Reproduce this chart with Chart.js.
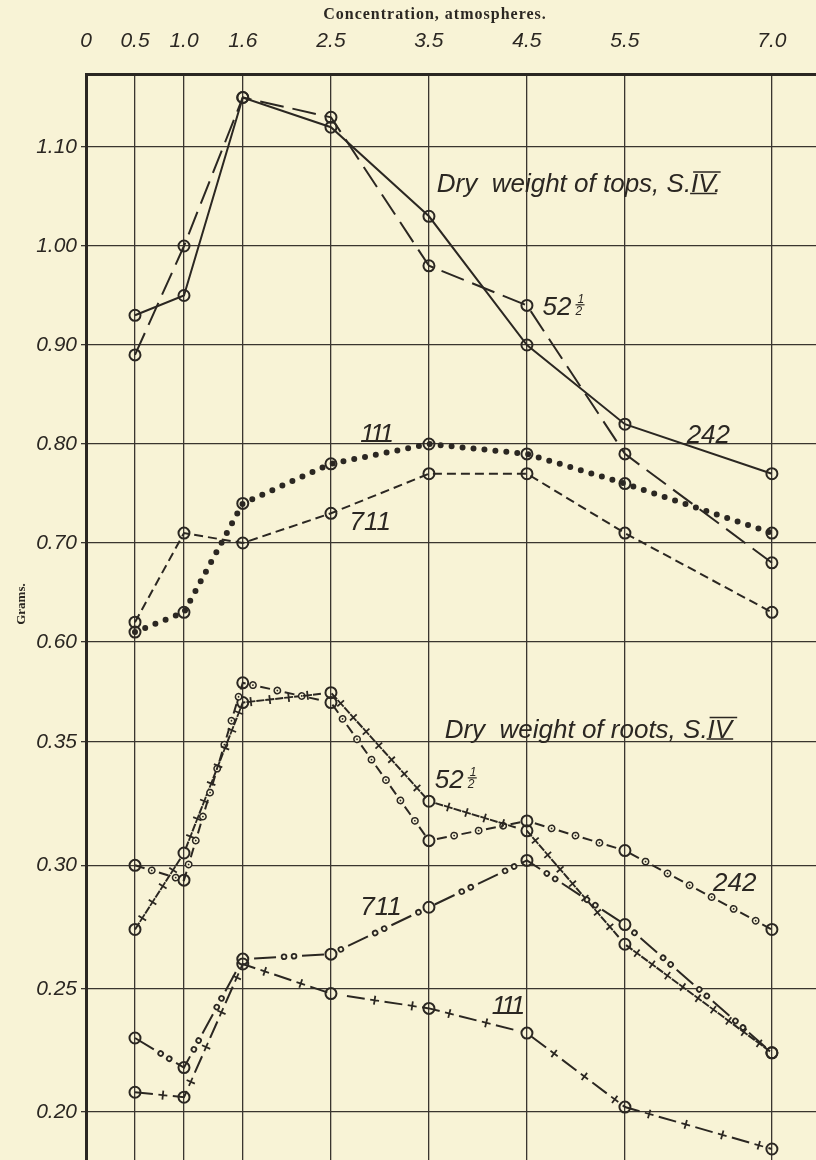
<!DOCTYPE html>
<html>
<head>
<meta charset="utf-8">
<title>Dry weight of tops and roots</title>
<style>
  html, body { margin: 0; padding: 0; background: #f8f3d6; }
  #wrap { width: 816px; height: 1160px; }
</style>
</head>
<body>
<div id="wrap"><canvas id="weightChart" width="816" height="1160"></canvas></div>
<script src="https://cdn.jsdelivr.net/npm/chart.js@4.4.1/dist/chart.umd.min.js"></script>
<script>
// concentration of the culture solution, atmospheres
const concentrations = [0.5, 1.0, 1.6, 2.5, 3.5, 4.5, 5.5, 7.0];
const concTicks = [0, 0.5, 1.0, 1.6, 2.5, 3.5, 4.5, 5.5, 7.0];
const concTickLabels = ['0', '0.5', '1.0', '1.6', '2.5', '3.5', '4.5', '5.5', '7.0'];

const topsTicks = [0.60, 0.70, 0.80, 0.90, 1.00, 1.10];
const topsTickLabels = ['0.60', '0.70', '0.80', '0.90', '1.00', '1.10'];
const rootsTicks = [0.20, 0.25, 0.30, 0.35];
const rootsTickLabels = ['0.20', '0.25', '0.30', '0.35'];

// dry weight of tops, grams
const tops242 = [0.93, 0.95, 1.15, 1.12, 1.03, 0.90, 0.82, 0.77];
const tops52 = [0.89, 1.00, 1.15, 1.13, 0.98, 0.94, 0.79, 0.68];
const tops111 = [0.61, 0.63, 0.74, 0.78, 0.80, 0.79, 0.76, 0.71];
const tops711 = [0.62, 0.71, 0.70, 0.73, 0.77, 0.77, 0.71, 0.63];

// dry weight of roots, grams
const roots242 = [0.300, 0.294, 0.374, 0.366, 0.310, 0.318, 0.306, 0.274];
const roots52 = [0.274, 0.305, 0.366, 0.370, 0.326, 0.314, 0.268, 0.224];
const roots711 = [0.230, 0.218, 0.262, 0.264, 0.283, 0.302, 0.276, 0.224];
const roots111 = [0.208, 0.206, 0.260, 0.248, 0.242, 0.232, 0.202, 0.185];

const INK = '#2b2722';
const GRID = '#3a352f';
const PAPER = '#f8f3d6';
const HAND = '"Liberation Sans", "DejaVu Sans", sans-serif';
const PRINT = '"Liberation Serif", "DejaVu Serif", serif';

// curve names and panel captions, placed in data units
const curveNotes = [
  { text: 'Dry  weight of tops, S.', numeral: 'IV', tail: '.', axis: 'yTops', x: 3.58, y: 1.0545 },
  { text: '52', fraction: true, axis: 'yTops', x: 4.66, y: 0.930 },
  { text: '242', axis: 'yTops', x: 6.13, y: 0.801 },
  { text: '111', axis: 'yTops', x: 2.80, y: 0.802 },
  { text: '711', axis: 'yTops', x: 2.69, y: 0.713 },
  { text: 'Dry  weight of roots, S.', numeral: 'IV', tail: '', axis: 'yRoots', x: 3.66, y: 0.3518 },
  { text: '52', fraction: true, axis: 'yRoots', x: 3.56, y: 0.3312 },
  { text: '242', axis: 'yRoots', x: 6.40, y: 0.2895 },
  { text: '711', axis: 'yRoots', x: 2.80, y: 0.2798 },
  { text: '111', axis: 'yRoots', x: 4.14, y: 0.2397 },
];

function seriesPoints(values) {
  return concentrations.map((c, i) => ({ x: c, y: values[i] }));
}

function curve(label, values, axis, style) {
  return Object.assign({
    label,
    data: seriesPoints(values),
    yAxisID: axis,
    borderColor: INK,
    borderWidth: 2,
    tension: 0,
    fill: false,
    pointRadius: 5.5,
    pointBorderWidth: 2,
    pointBorderColor: INK,
    pointBackgroundColor: 'rgba(0,0,0,0)',
  }, style);
}

function drawGlyph(ctx, kind, x, y, angle) {
  ctx.save();
  ctx.translate(x, y);
  ctx.rotate(angle);
  if (kind === 'ring') {
    ctx.beginPath();
    ctx.arc(0, 0, 3.2, 0, Math.PI * 2);
    ctx.fillStyle = PAPER;
    ctx.fill();
    ctx.lineWidth = 1.5;
    ctx.stroke();
    ctx.beginPath();
    ctx.arc(0, 0, 0.9, 0, Math.PI * 2);
    ctx.fillStyle = INK;
    ctx.fill();
  } else if (kind === 'dot') {
    ctx.beginPath();
    ctx.arc(0, 0, 2.4, 0, Math.PI * 2);
    ctx.fillStyle = PAPER;
    ctx.fill();
    ctx.lineWidth = 1.8;
    ctx.stroke();
  } else if (kind === 'cross') {
    ctx.lineWidth = 1.8;
    ctx.beginPath();
    ctx.moveTo(-4.5, 0); ctx.lineTo(4.5, 0);
    ctx.moveTo(0, -4.5); ctx.lineTo(0, 4.5);
    ctx.stroke();
  }
  ctx.restore();
}

// small marks set into the gaps of a dashed curve, in step with its dash pattern
const gapMarks = {
  id: 'gapMarks',
  afterDatasetsDraw(chart) {
    const ctx = chart.ctx;
    chart.data.datasets.forEach((ds, i) => {
      if (!ds.glyph) return;
      const pts = chart.getDatasetMeta(i).data;
      const [dash, gap] = ds.borderDash;
      const period = dash + gap;
      ctx.save();
      ctx.strokeStyle = INK;
      let walked = 0;
      for (let k = 1; k < pts.length; k++) {
        const a = pts[k - 1], b = pts[k];
        const len = Math.hypot(b.x - a.x, b.y - a.y);
        const angle = Math.atan2(b.y - a.y, b.x - a.x);
        for (const off of ds.glyph.at) {
          const n = Math.ceil((walked - dash - off) / period);
          for (let s = n * period + dash + off; s < walked + len; s += period) {
            const d = s - walked;
            if (d < 7 || len - d < 7) continue;
            const t = d / len;
            drawGlyph(ctx, ds.glyph.kind, a.x + (b.x - a.x) * t, a.y + (b.y - a.y) * t, angle);
          }
        }
        walked += len;
      }
      ctx.restore();
    });
  }
};

function drawNote(ctx, note, x, y) {
  ctx.fillText(note.text, x, y);
  let w = ctx.measureText(note.text).width;
  if (note.fraction) {
    const fx = x + w + 4;
    ctx.save();
    ctx.font = 'italic 12px ' + HAND;
    ctx.fillText('1', fx + 2, y - 12);
    ctx.fillText('2', fx, y);
    ctx.lineWidth = 1.2;
    ctx.beginPath();
    ctx.moveTo(fx, y - 10.5);
    ctx.lineTo(fx + 9, y - 10.5);
    ctx.stroke();
    ctx.restore();
  }
  if (note.numeral) {
    const nx = x + w;
    const nw = ctx.measureText(note.numeral).width;
    ctx.fillText(note.numeral + note.tail, nx, y);
    ctx.lineWidth = 1.4;
    ctx.beginPath();
    ctx.moveTo(nx + 2, y - 20); ctx.lineTo(nx + nw + 5, y - 20);
    ctx.moveTo(nx - 1, y + 1.5); ctx.lineTo(nx + nw + 1, y + 1.5);
    ctx.stroke();
  }
}

const curveLabels = {
  id: 'curveLabels',
  afterDraw(chart) {
    const ctx = chart.ctx;
    ctx.save();
    ctx.fillStyle = INK;
    ctx.strokeStyle = INK;
    ctx.textBaseline = 'alphabetic';
    ctx.textAlign = 'left';
    for (const note of curveNotes) {
      const x = chart.scales.x.getPixelForValue(note.x);
      const y = chart.scales[note.axis].getPixelForValue(note.y);
      ctx.font = 'italic 26px ' + HAND;
      ctx.letterSpacing = /^1+$/.test(note.text) ? '-3px' : '0px';
      drawNote(ctx, note, x, y);
    }

    // heading of the concentration axis
    ctx.textAlign = 'center';
    ctx.textBaseline = 'middle';
    ctx.letterSpacing = '1px';
    ctx.font = 'bold 16px ' + PRINT;
    ctx.fillText('Concentration, atmospheres.', 435, 15);
    ctx.letterSpacing = '0px';

    // shared title of the two stacked weight axes
    ctx.translate(22, 604);
    ctx.rotate(-Math.PI / 2);
    ctx.font = 'bold 13px ' + PRINT;
    ctx.fillText('Grams.', 0, 0);
    ctx.restore();
  }
};

function weightAxis(ticks, labels, min, max, weight) {
  return {
    type: 'linear',
    position: 'left',
    stack: 'grams',
    stackWeight: weight,
    min,
    max,
    afterBuildTicks: (scale) => { scale.ticks = ticks.map(v => ({ value: v })); },
    afterFit: (scale) => {
      scale.width = 86;
      scale.paddingTop = 0;
      scale.paddingBottom = 0;
    },
    ticks: {
      color: INK,
      padding: 4,
      font: { family: HAND, size: 21, style: 'italic' },
      callback: (value, index) => labels[index],
    },
    grid: { color: GRID, lineWidth: 1.3, tickLength: 5 },
    border: { color: INK, width: 3 },
  };
}

new Chart(document.getElementById('weightChart'), {
  type: 'line',
  data: {
    datasets: [
      curve('242', tops242, 'yTops', {}),
      curve('52½', tops52, 'yTops', { borderDash: [24, 9] }),
      curve('111', tops111, 'yTops', { borderDash: [0, 11], borderWidth: 6, borderCapStyle: 'round' }),
      curve('711', tops711, 'yTops', { borderDash: [9, 5] }),
      curve('242', roots242, 'yRoots', { borderDash: [10, 15], glyph: { kind: 'ring', at: [7.5] } }),
      curve('52½', roots52, 'yRoots', { borderDash: [8, 11], glyph: { kind: 'cross', at: [5.5] } }),
      curve('711', roots711, 'yRoots', { borderDash: [22, 26], glyph: { kind: 'dot', at: [8, 18] } }),
      curve('111', roots111, 'yRoots', { borderDash: [18, 20], glyph: { kind: 'cross', at: [10] } }),
    ],
  },
  options: {
    responsive: false,
    animation: false,
    events: [],
    layout: { padding: 0, autoPadding: false },
    plugins: { legend: { display: false }, tooltip: { enabled: false } },
    scales: {
      x: {
        type: 'linear',
        position: 'top',
        min: 0,
        max: 7.45,
        afterBuildTicks: (scale) => { scale.ticks = concTicks.map(v => ({ value: v })); },
        afterFit: (scale) => { scale.height = 74; },
        ticks: {
          color: INK,
          padding: 20,
          maxRotation: 0,
          font: { family: HAND, size: 21, style: 'italic' },
          callback: (value, index) => concTickLabels[index],
        },
        grid: { color: GRID, lineWidth: 1.3, drawTicks: false },
        border: { color: INK, width: 3 },
      },
      yRoots: weightAxis(rootsTicks, rootsTickLabels, 0.18054, 0.39054, 518),
      yTops: weightAxis(topsTicks, topsTickLabels, 0.60, 1.17374, 568),
    },
  },
  plugins: [gapMarks, curveLabels],
});
</script>
</body>
</html>
